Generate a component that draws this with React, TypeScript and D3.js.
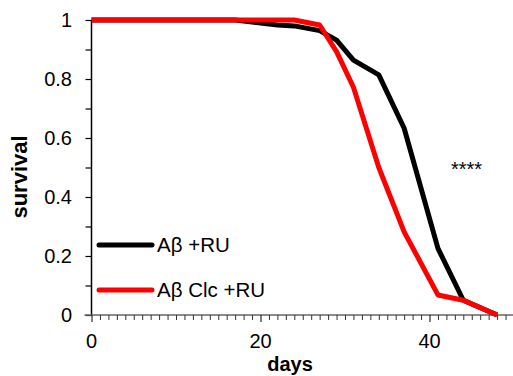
import React, { useEffect, useRef } from 'react';
import * as d3 from 'd3';

const blackDays = [0, 17, 22, 24, 27, 29, 31, 34, 37, 41, 44, 48];
const blackSurvival = [1, 1, 0.983, 0.98, 0.964, 0.932, 0.864, 0.814, 0.633, 0.226, 0.05, 0];
const redDays = [0, 24, 27, 29, 31, 34, 37, 41, 44, 48];
const redSurvival = [1, 1, 0.983, 0.893, 0.772, 0.5, 0.282, 0.068, 0.05, 0];
const seriesNames = ['Aβ +RU', 'Aβ Clc +RU'];
const seriesColors = ['#000000', '#ff0000'];
const xTicks = [0, 20, 40];
const yTicks = [0, 0.2, 0.4, 0.6, 0.8, 1];

const W = 513;
const H = 376;

const App = () => {
  const ref = useRef<SVGSVGElement | null>(null);

  useEffect(() => {
    if (!ref.current) return;
    const svg = d3.select(ref.current);
    svg.selectAll('*').remove();

    const font = '"Liberation Sans", Arial, sans-serif';
    const x = d3.scaleLinear().domain([0, 50]).range([91.5, 514]);
    const y = d3.scaleLinear().domain([0, 1]).range([315, 20]);

    // y axis
    const yAxis = svg.append('g').attr('transform', `translate(${x(0)},0)`);
    yAxis
      .call(d3.axisLeft(y).tickValues(d3.range(0, 1.01, 0.1)).tickSize(6).tickFormat(() => ''))
      .call((g) => g.selectAll('.tick line').attr('stroke', '#000').attr('stroke-width', 1.2));
    yAxis.select('.domain').attr('stroke', '#000').attr('stroke-width', 1.5).attr('d', `M0,${y(0)}V${y(1)}`);

    svg
      .append('g')
      .selectAll('text')
      .data(yTicks)
      .enter()
      .append('text')
      .attr('x', 72)
      .attr('y', (d) => y(d))
      .attr('dy', '0.35em')
      .attr('text-anchor', 'end')
      .attr('font-family', font)
      .attr('font-size', 20)
      .text((d) => d3.format('~g')(d));

    // x axis
    const xAxis = svg.append('g').attr('transform', `translate(0,${y(0)})`);
    xAxis
      .call(d3.axisBottom(x).tickValues(d3.range(0, 51, 1)).tickSize(5).tickFormat(() => ''))
      .call((g) => g.selectAll('.tick line').attr('stroke', '#333').attr('stroke-width', 1));
    xAxis.selectAll('.tick line').filter((d: any) => d % 20 === 0).attr('y2', 7).attr('stroke', '#000');
    xAxis.select('.domain').attr('stroke', '#666').attr('stroke-width', 1.5).attr('d', `M${x(0) - 7},0H${W}`);

    svg
      .append('g')
      .selectAll('text')
      .data(xTicks)
      .enter()
      .append('text')
      .attr('x', (d) => x(d))
      .attr('y', 348)
      .attr('text-anchor', 'middle')
      .attr('font-family', font)
      .attr('font-size', 20)
      .text((d) => d);

    // axis titles
    svg
      .append('text')
      .attr('x', 290)
      .attr('y', 371)
      .attr('text-anchor', 'middle')
      .attr('font-family', font)
      .attr('font-size', 20)
      .attr('font-weight', 'bold')
      .text('days');

    svg
      .append('text')
      .attr('transform', 'translate(27,177) rotate(-90)')
      .attr('text-anchor', 'middle')
      .attr('font-family', font)
      .attr('font-size', 22)
      .attr('font-weight', 'bold')
      .text('survival');

    // lines
    const line = d3
      .line<[number, number]>()
      .x((d) => x(d[0]))
      .y((d) => y(d[1]));

    const series = [
      d3.zip(blackDays, blackSurvival) as [number, number][],
      d3.zip(redDays, redSurvival) as [number, number][],
    ];

    series.forEach((pts, i) => {
      svg
        .append('path')
        .attr('d', line(pts))
        .attr('fill', 'none')
        .attr('stroke', seriesColors[i])
        .attr('stroke-width', 5)
        .attr('stroke-linejoin', 'round');
    });

    // legend
    const legendY = [245, 290];
    seriesNames.forEach((name, i) => {
      svg
        .append('line')
        .attr('x1', 99)
        .attr('x2', 152)
        .attr('y1', legendY[i])
        .attr('y2', legendY[i])
        .attr('stroke', seriesColors[i])
        .attr('stroke-width', 5)
        .attr('stroke-linecap', 'round');
      svg
        .append('text')
        .attr('x', 157)
        .attr('y', legendY[i] + 7)
        .attr('font-family', font)
        .attr('font-size', 20.5)
        .text(name);
    });

    svg
      .append('text')
      .attr('x', 451)
      .attr('y', 176)
      .attr('font-family', font)
      .attr('font-size', 20)
      .text('****');
  }, []);

  return (
    <svg
      ref={ref}
      width={W}
      height={H}
      style={{ position: 'absolute', left: 0, top: 0, background: '#fff' }}
    />
  );
};

export default App;
